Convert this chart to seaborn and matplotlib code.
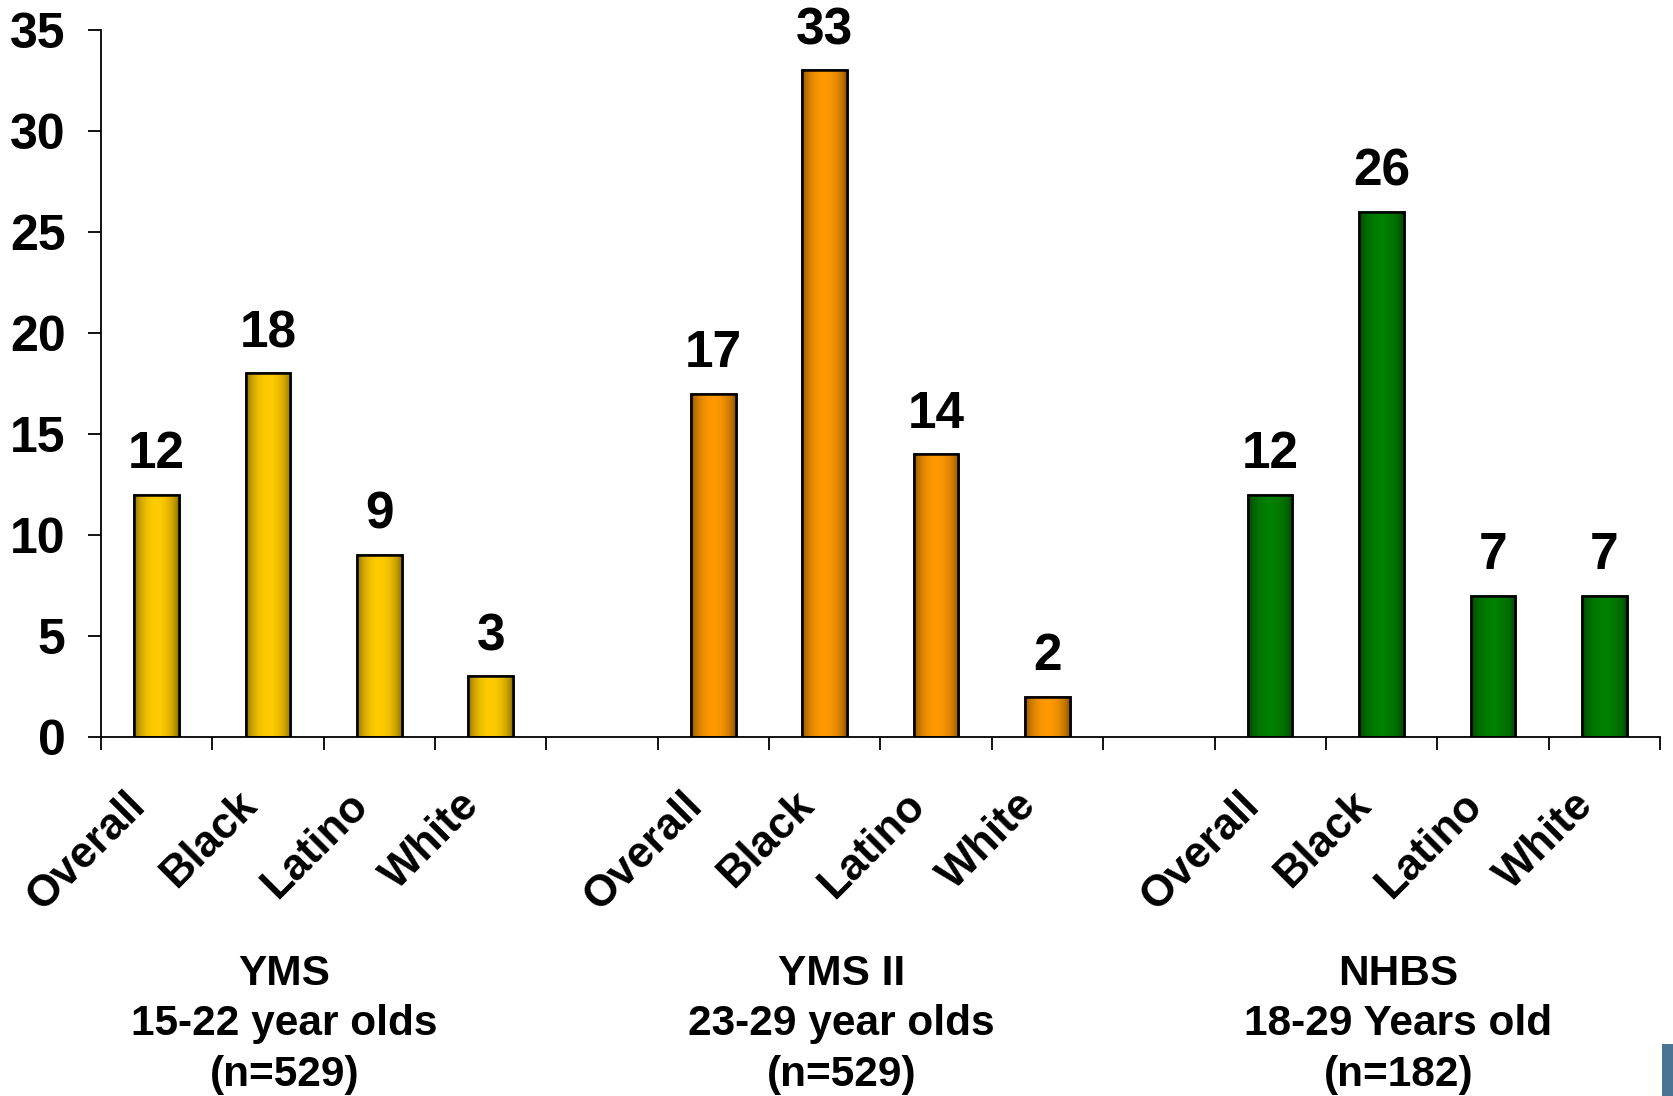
import numpy as np
import pandas as pd
import matplotlib
matplotlib.use("Agg")
import matplotlib.pyplot as plt
import matplotlib.patches as mpatches
from matplotlib.colors import to_rgb
from matplotlib.transforms import ScaledTranslation
import seaborn as sns

# Survey groups, race categories and percentages
groups = ["YMS", "YMS II", "NHBS"]
group_titles = [
    "YMS\n15-22 year olds\n(n=529)",
    "YMS II\n23-29 year olds\n(n=529)",
    "NHBS\n18-29 Years old\n(n=182)",
]
races = ["Overall", "Black", "Latino", "White"]
yms_values = [12, 18, 9, 3]
yms2_values = [17, 33, 14, 2]
nhbs_values = [12, 26, 7, 7]
group_colors = ["#FFCC00", "#FF9900", "#008000"]
y_ticks = [0, 5, 10, 15, 20, 25, 30, 35]

rows = []
for g, vals in zip(groups, [yms_values, yms2_values, nhbs_values]):
    for r, v in zip(races, vals):
        rows.append({"slot": f"{g}|{r}", "group": g, "race": r, "value": v})
df = pd.DataFrame(rows)

# Category order with an empty slot between the survey groups
order = []
for i, g in enumerate(groups):
    order += [f"{g}|{r}" for r in races]
    if i < len(groups) - 1:
        order.append(f"gap{i}")

sns.set_theme(style="white")
plt.rcParams["font.family"] = ["Liberation Sans", "DejaVu Sans"]
plt.rcParams["font.weight"] = "bold"
plt.rcParams["text.color"] = "black"
plt.rcParams["xtick.color"] = "black"
plt.rcParams["ytick.color"] = "black"

fig = plt.figure(figsize=(16.74, 10.96), dpi=100)
ax = fig.add_axes([0.0603, 0.3275, 0.9313, 0.6451])

sns.barplot(
    data=df, x="slot", y="value", hue="group", order=order,
    hue_order=groups, palette=group_colors, saturation=1, width=0.40,
    edgecolor="black", linewidth=1.8, legend=False, ax=ax,
)

# Cylinder-style shading: dark at the bar edges, full colour in the middle
t = np.linspace(0, 1, 256)
shade = 0.46 + 0.54 * np.clip(np.sin(np.pi * t) ** 0.55, 0, 1)
for patch in list(ax.patches):
    h = patch.get_height()
    if not np.isfinite(h) or h == 0:
        continue
    base = np.array(to_rgb(patch.get_facecolor()))
    img = (shade[:, None] * base[None, :])[None, :, :]
    x0, y0 = patch.get_x(), patch.get_y()
    w = patch.get_width()
    im = ax.imshow(img, extent=[x0, x0 + w, y0, y0 + h], aspect="auto",
                   interpolation="bicubic", zorder=patch.get_zorder() + 0.1)
    im.set_clip_path(patch)
    outline = mpatches.Rectangle((x0, y0), w, h, fill=False, edgecolor="black",
                                 linewidth=1.8, zorder=patch.get_zorder() + 0.2)
    ax.add_patch(outline)

# Value labels above the bars
for _, row in df.iterrows():
    xi = order.index(row["slot"])
    ax.annotate(f"{row['value']:g}", (xi, row["value"]), xytext=(0, 11),
                textcoords="offset points", ha="center", va="bottom",
                fontsize=37, fontweight="bold", color="black")

ax.set_xlim(-0.5, len(order) - 0.5)
ax.set_ylim(0, 35)
ax.set_yticks(y_ticks)
ax.set_yticklabels([str(v) for v in y_ticks])
ax.tick_params(axis="y", direction="out", length=9.5, width=1.3, pad=16,
               labelsize=36, left=True, color="black", labelcolor="black")

# Race names at bar centres, tick marks at slot boundaries
label_pos = [order.index(s) for s in df["slot"]]
ax.set_xticks(label_pos)
ax.set_xticklabels(df["race"].tolist(), rotation=45, ha="right",
                   rotation_mode="anchor", fontsize=31.5, fontweight="bold",
                   color="black")
ax.tick_params(axis="x", which="major", length=0, pad=34)
shift = ScaledTranslation(-0.32, 0.0, fig.dpi_scale_trans)
for lab in ax.get_xticklabels():
    lab.set_transform(lab.get_transform() + shift)
ax.set_xticks(np.arange(-0.5, len(order), 1.0), minor=True)
ax.tick_params(axis="x", which="minor", direction="out", length=9.5,
               width=1.3, bottom=True, color="black")
ax.set_xlabel("")
ax.set_ylabel("")

for side in ["top", "right"]:
    ax.spines[side].set_visible(False)
for side in ["left", "bottom"]:
    ax.spines[side].set_color("black")
    ax.spines[side].set_linewidth(1.3)

# Survey titles under each group
for i, title in enumerate(group_titles):
    centre = order.index(f"{groups[i]}|{races[0]}") + 1.5 - 0.35
    ax.text(centre, -0.307, title, transform=ax.get_xaxis_transform(),
            ha="center", va="top", fontsize=30.5, fontweight="bold",
            linespacing=1.33, color="black")

# Edge of the slide banner in the lower-right corner
fig.patches.append(mpatches.Rectangle((0.9928, 0.0), 0.0072, 0.0474,
                                      transform=fig.transFigure,
                                      facecolor="#4A7494", edgecolor="none"))

fig.savefig("out.png", dpi=100, facecolor="white")
